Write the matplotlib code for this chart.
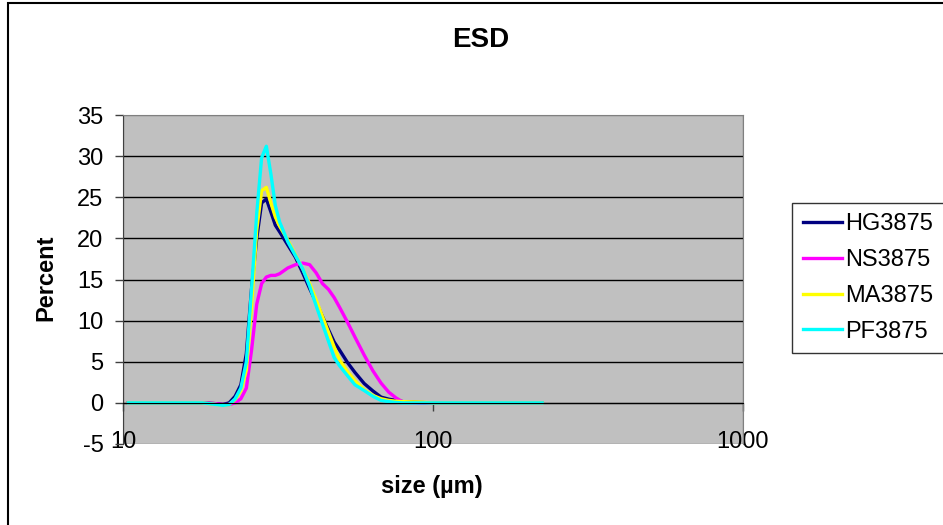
import matplotlib
matplotlib.use("Agg")
import matplotlib.pyplot as plt
from matplotlib.patches import Rectangle

plt.rcParams['font.family'] = ['Liberation Sans', 'DejaVu Sans']
plt.rcParams['axes.unicode_minus'] = False

# particle size (um)
sizes = [10.4, 12, 14, 16, 18, 20, 21, 22, 23, 24, 25, 26, 27, 28, 29, 30, 31, 32,
         34, 36, 38, 40, 42, 44, 46, 48, 50, 53, 56, 60, 64, 68, 72, 76, 80, 90,
         100, 120, 150, 180, 225]

hg3875 = [0, 0, 0, 0, 0, -0.1, -0.2, 0, 0.8, 2.2, 6, 14, 20, 24.3, 24.8, 23.2, 21.6, 20.8,
          19.2, 17.7, 15.8, 13.9, 12.2, 10.5, 8.9, 7.4, 6.4, 4.9, 3.7, 2.35, 1.45, 0.7,
          0.45, 0.3, 0.15, 0.05, 0, 0, 0, 0, 0]
ns3875 = [0, 0, 0, 0, 0, -0.1, -0.2, -0.2, 0, 0.5, 1.8, 6.5, 12, 14.5, 15.3, 15.5, 15.5,
          15.7, 16.4, 16.8, 17.0, 16.8, 15.8, 14.5, 13.8, 12.8, 11.6, 9.8, 8.0, 5.8, 3.9,
          2.4, 1.3, 0.6, 0.1, 0, 0, 0, 0, 0, 0]
ma3875 = [0, 0, 0, 0, 0, -0.2, -0.3, -0.2, 0.4, 1.5, 4, 12, 21, 25.8, 26.2, 24.3, 22.6, 21.5,
          19.8, 18, 16.3, 14.5, 12.5, 10.5, 8.6, 6.8, 5.2, 3.8, 2.7, 1.6, 0.9, 0.5, 0.3,
          0.2, 0.15, 0.1, 0, 0, 0, 0, 0]
pf3875 = [0, 0, 0, 0, 0, -0.2, -0.3, -0.2, 0.5, 1.8, 5, 14, 23, 29.8, 31.2, 27.8, 24, 22,
          19.6, 17.9, 16.3, 14.2, 11.8, 9.6, 7.5, 5.5, 4.5, 3.3, 2.2, 1.5, 0.8, 0.3, 0.15,
          0.05, 0, 0, 0, 0, 0, 0, 0]

series = [("HG3875", hg3875, "#000080"),
          ("NS3875", ns3875, "#FF00FF"),
          ("MA3875", ma3875, "#FFFF00"),
          ("PF3875", pf3875, "#00FFFF")]

W, H = 943, 525
fig = plt.figure(figsize=(W / 100, H / 100), dpi=100)
ax = fig.add_axes([123 / W, 1 - 444 / H, (743 - 123) / W, (444 - 115) / H])
ax.set_facecolor("#C0C0C0")

for name, vals, col in series:
    ax.plot(sizes, vals, color=col, lw=2.4, label=name, solid_joinstyle='round')

ax.set_xscale('log')
ax.set_xlim(10, 1000)
ax.set_ylim(-5, 35)
ax.set_yticks(range(-5, 36, 5))
ax.set_xticks([10, 100, 1000])
ax.set_xticklabels(["10", "100", "1000"])
ax.minorticks_off()

ax.yaxis.grid(True, color='black', lw=1)
gl = ax.yaxis.get_gridlines()
gl[0].set_visible(False)
gl[-1].set_visible(False)
ax.set_axisbelow(True)

for s in ['top', 'right']:
    ax.spines[s].set_color('#808080')
ax.spines['left'].set_color('#404040')
ax.spines['bottom'].set_position(('data', 0))
ax.spines['bottom'].set_color('black')
ax.add_patch(Rectangle((0, 0), 1, 1, transform=ax.transAxes, fill=False,
                       edgecolor='#808080', lw=1, zorder=0.5))

ax.tick_params(axis='y', direction='out', length=6, width=1, color='#404040',
               labelsize=17, pad=8)
ax.tick_params(axis='x', direction='out', length=6, width=1, color='#404040',
               labelsize=17, pad=14)

fig.text(481 / W, 1 - 40 / H, "ESD", ha='center', va='center', fontsize=20,
         fontweight='bold')
fig.text(46 / W, 1 - 278 / H, "Percent", ha='center', va='center', fontsize=17,
         fontweight='bold', rotation=90)
fig.text(432 / W, 1 - 487 / H, "size (µm)", ha='center', va='center', fontsize=17,
         fontweight='bold')

leg = fig.legend(loc='center left', bbox_to_anchor=(792 / W, 1 - 278 / H),
                 fontsize=17, frameon=True, fancybox=False, borderaxespad=0,
                 handlelength=1.65, handletextpad=0.15, labelspacing=0.58,
                 borderpad=0.45)
leg.get_frame().set_edgecolor('black')
leg.get_frame().set_linewidth(1)
for line in leg.get_lines():
    line.set_linewidth(2.4)

fig.patches.append(Rectangle((8 / W, -0.05), 1.1, 1 - 3 / H + 0.05,
                             transform=fig.transFigure, fill=False,
                             edgecolor='black', lw=1.5))

fig.savefig("out.png", dpi=100)
